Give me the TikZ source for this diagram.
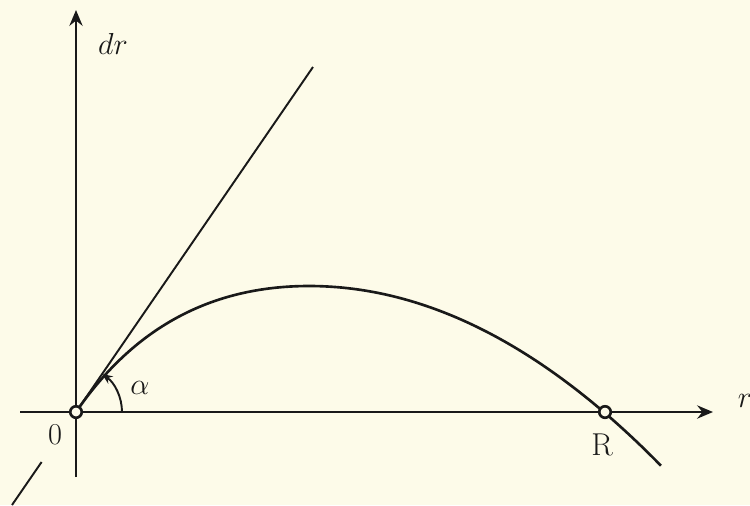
\documentclass[tikz,border=0pt]{standalone}
\usetikzlibrary{arrows.meta}
\definecolor{paper}{RGB}{253,251,233}
\definecolor{ink}{RGB}{25,25,25}
\begin{document}
\begin{tikzpicture}[x=0.02cm,y=0.02cm,
  axisline/.style={draw=ink,line width=1.6pt,-{Stealth[length=9pt,width=7.5pt,inset=3pt]}},
  curveline/.style={draw=ink,line width=1.5pt},
  thinline/.style={draw=ink,line width=1.1pt},
  dot/.style={circle,draw=ink,fill=paper,line width=1.5pt,minimum size=0.23cm,inner sep=0pt},
  lab/.style={text=ink,font=\fontsize{18}{20}\selectfont,inner sep=0pt}]
\fill[paper] (0,0) rectangle (750,-505);
\useasboundingbox (0,0) rectangle (750,-505);
% coordinates
\coordinate (xs) at (20,-412);
\coordinate (xe) at (713,-412);
\coordinate (yb) at (76,-477);
\coordinate (yt) at (76,-10);
\coordinate (o) at (76,-412);
\coordinate (tt) at (313,-67);
\coordinate (l1) at (41.6,-462);
\coordinate (l2) at (12,-505);
\coordinate (pk) at (309,-286);
\coordinate (ce) at (661,-465.7);
\coordinate (a0) at (122,-412);
% axes
\draw[axisline] (xs) -- (xe);
\draw[axisline] (yb) -- (yt);
% tangent
\draw[thinline] (o) -- (tt);
\draw[thinline] (l1) -- (l2);
% curve
\draw[curveline] (o) .. controls (132.5,-329.5) and (209,-286) .. (pk)
  .. controls (426.3,-286) and (543.7,-345.9) .. (ce);
% angle
\draw[thinline,-{Stealth[length=6pt,width=5pt,inset=2pt]}] (a0) arc[start angle=0,end angle=55.6,radius=46];
% points
\node[dot] (O) at (o) {};
\node[dot] (R) at (605,-412) {};
% labels
\node[lab] (l0) at (55,-435) {$0$};
\node[lab] (lR) at (602,-445) {R};
\node[lab] (lr) at (745,-401) {$r$};
\node[lab] (ldr) at (113,-44) {$dr$};
\node[lab] (la) at (140,-388) {$\alpha$};
\end{tikzpicture}
\end{document}
